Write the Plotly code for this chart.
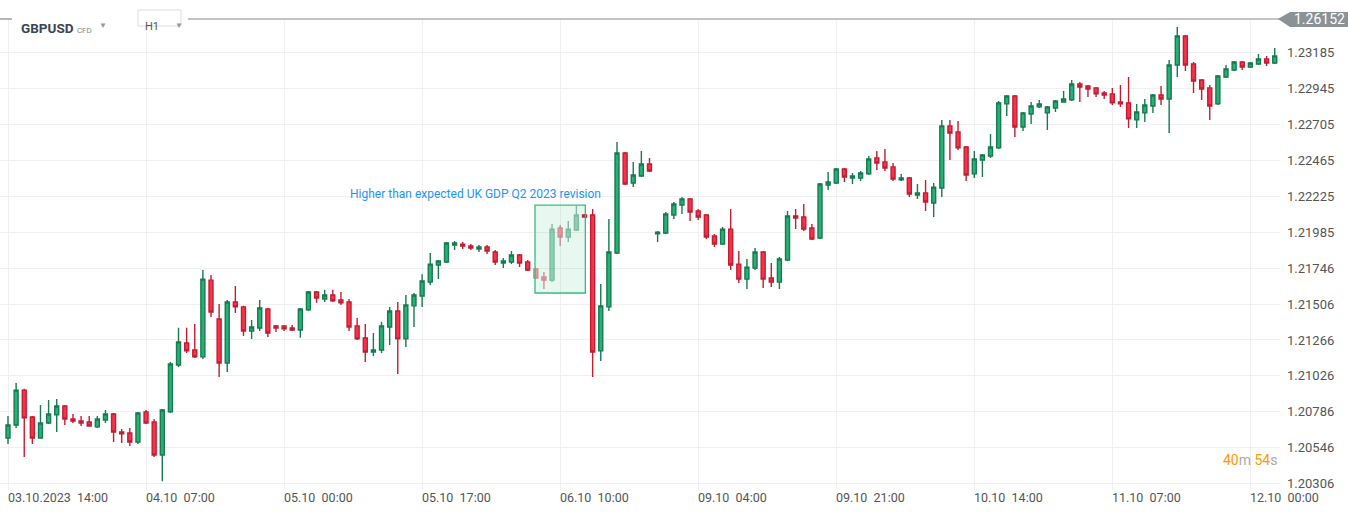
import plotly.graph_objects as go

opens = [1.20611,1.20698,1.20931,1.20751,1.20611,1.20711,1.20765,1.20825,1.20738,1.20724,
1.20718,1.20685,1.20731,1.20771,1.20651,1.20644,1.20584,1.20785,1.20718,1.20497,
1.20785,1.21099,1.21246,1.21199,1.21153,1.21666,1.21406,1.21112,1.21520,1.21487,
1.21326,1.21346,1.21473,1.21360,1.21360,1.21346,1.21333,1.21467,1.21587,1.21540,
1.21567,1.21534,1.21520,1.21360,1.21280,1.21186,1.21199,1.21353,1.21460,1.21273,
1.21494,1.21560,1.21653,1.21767,1.21787,1.21901,1.21907,1.21894,1.21874,1.21887,
1.21854,1.21780,1.21787,1.21834,1.21787,1.21740,1.21687,1.21666,1.22014,1.21954,
1.22001,1.22101,1.22101,1.21193,1.21487,1.21847,1.22516,1.22315,1.22362,1.22442,
1.21975,1.21981,1.22101,1.22168,1.22209,1.22128,1.22101,1.21961,1.21907,1.22007,
1.21773,1.21673,1.21747,1.21854,1.21680,1.21653,1.21800,1.22095,1.22088,1.22014,
1.21948,1.22302,1.22315,1.22409,1.22349,1.22349,1.22376,1.22483,1.22456,1.22423,
1.22336,1.22349,1.22235,1.22249,1.22182,1.22282,1.22697,1.22657,1.22556,1.22376,
1.22469,1.22496,1.22550,1.22844,1.22897,1.22690,1.22777,1.22824,1.22784,1.22817,
1.22857,1.22871,1.22977,1.22964,1.22951,1.22917,1.22911,1.22857,1.22851,1.22737,
1.22784,1.22830,1.22904,1.22877,1.23104,1.23298,1.23111,1.23004,1.22951,1.22844,
1.23024,1.23071,1.23124,1.23091,1.23111,1.23144,1.23118]
highs = [1.20758,1.20978,1.20940,1.20758,1.20832,1.20865,1.20872,1.20832,1.20771,1.20758,
1.20758,1.20758,1.20798,1.20778,1.20671,1.20678,1.20785,1.20798,1.20738,1.20805,
1.21119,1.21347,1.21347,1.21373,1.21733,1.21700,1.21507,1.21534,1.21626,1.21494,
1.21400,1.21534,1.21480,1.21366,1.21366,1.21366,1.21480,1.21594,1.21594,1.21601,
1.21601,1.21587,1.21540,1.21413,1.21373,1.21313,1.21387,1.21487,1.21520,1.21567,
1.21580,1.21706,1.21847,1.21800,1.21921,1.21928,1.21921,1.21907,1.21901,1.21901,
1.21867,1.21814,1.21860,1.21840,1.21800,1.21747,1.21720,1.22041,1.22034,1.22061,
1.22161,1.22108,1.22141,1.21640,1.22075,1.22590,1.22523,1.22456,1.22530,1.22483,
1.21994,1.22121,1.22188,1.22222,1.22215,1.22141,1.22108,1.21975,1.22021,1.22141,
1.21860,1.21807,1.21881,1.21860,1.21780,1.21820,1.22128,1.22141,1.22175,1.22041,
1.22315,1.22389,1.22416,1.22416,1.22382,1.22396,1.22496,1.22530,1.22543,1.22449,
1.22376,1.22355,1.22309,1.22336,1.22315,1.22737,1.22737,1.22730,1.22563,1.22530,
1.22510,1.22643,1.22864,1.22904,1.22904,1.22790,1.22857,1.22871,1.22830,1.22871,
1.22931,1.23004,1.22991,1.22971,1.22957,1.22931,1.22951,1.22971,1.23024,1.22844,
1.22877,1.22911,1.22964,1.23138,1.23359,1.23305,1.23124,1.23011,1.22971,1.23038,
1.23104,1.23131,1.23131,1.23124,1.23178,1.23165,1.23218]
lows = [1.20570,1.20678,1.20483,1.20570,1.20605,1.20704,1.20651,1.20698,1.20711,1.20691,
1.20685,1.20678,1.20711,1.20584,1.20577,1.20557,1.20570,1.20705,1.20483,1.20322,
1.20778,1.21085,1.21179,1.21146,1.21139,1.21420,1.21018,1.21052,1.21446,1.21293,
1.21273,1.21326,1.21286,1.21320,1.21326,1.21326,1.21280,1.21460,1.21514,1.21520,
1.21520,1.21500,1.21326,1.21266,1.21119,1.21159,1.21179,1.21233,1.21038,1.21219,
1.21353,1.21487,1.21633,1.21673,1.21780,1.21867,1.21874,1.21867,1.21854,1.21840,
1.21767,1.21747,1.21773,1.21753,1.21727,1.21673,1.21606,1.21653,1.21894,1.21921,
1.21994,1.22081,1.21018,1.21126,1.21460,1.21840,1.22302,1.22288,1.22355,1.22389,
1.21921,1.21975,1.22075,1.22108,1.22061,1.22068,1.21941,1.21887,1.21901,1.21733,
1.21646,1.21606,1.21733,1.21613,1.21620,1.21606,1.21794,1.22007,1.21994,1.21934,
1.21941,1.22268,1.22309,1.22322,1.22309,1.22329,1.22369,1.22402,1.22396,1.22329,
1.22329,1.22222,1.22209,1.22128,1.22088,1.22222,1.22469,1.22536,1.22329,1.22349,
1.22355,1.22483,1.22543,1.22764,1.22623,1.22663,1.22710,1.22817,1.22670,1.22790,
1.22851,1.22864,1.22857,1.22890,1.22890,1.22877,1.22837,1.22824,1.22683,1.22683,
1.22723,1.22784,1.22837,1.22650,1.23024,1.23064,1.22917,1.22871,1.22737,1.22837,
1.23017,1.23064,1.23071,1.23084,1.23104,1.23098,1.23111]
closes = [1.20698,1.20931,1.20745,1.20611,1.20711,1.20771,1.20825,1.20738,1.20724,1.20711,
1.20691,1.20738,1.20771,1.20651,1.20638,1.20584,1.20778,1.20711,1.20497,1.20798,
1.21105,1.21253,1.21193,1.21153,1.21673,1.21453,1.21112,1.21520,1.21487,1.21326,
1.21353,1.21480,1.21313,1.21346,1.21340,1.21333,1.21473,1.21587,1.21547,1.21567,
1.21527,1.21514,1.21353,1.21273,1.21186,1.21199,1.21360,1.21460,1.21273,1.21500,
1.21567,1.21660,1.21773,1.21794,1.21914,1.21914,1.21894,1.21881,1.21887,1.21860,
1.21787,1.21794,1.21834,1.21780,1.21733,1.21680,1.21666,1.22007,1.21954,1.22007,
1.22101,1.22088,1.21186,1.21494,1.21854,1.22516,1.22309,1.22369,1.22442,1.22396,
1.21987,1.22108,1.22175,1.22209,1.22121,1.22088,1.21954,1.21907,1.22007,1.21767,
1.21673,1.21753,1.21854,1.21673,1.21653,1.21807,1.22095,1.22081,1.22007,1.21941,
1.22309,1.22322,1.22409,1.22355,1.22362,1.22382,1.22476,1.22449,1.22416,1.22342,
1.22349,1.22242,1.22249,1.22188,1.22288,1.22697,1.22650,1.22550,1.22369,1.22476,
1.22503,1.22556,1.22851,1.22897,1.22690,1.22784,1.22830,1.22844,1.22824,1.22864,
1.22877,1.22977,1.22957,1.22944,1.22911,1.22904,1.22851,1.22844,1.22744,1.22790,
1.22837,1.22904,1.22877,1.23104,1.23298,1.23104,1.22997,1.22944,1.22830,1.23031,
1.23078,1.23124,1.23091,1.23118,1.23144,1.23118,1.23165]

x_tick_idx = [0, 17, 34, 51, 68, 85, 102, 119, 136, 153]
x_tick_labels = ["03.10.2023  14:00", "04.10  07:00", "05.10  00:00", "05.10  17:00",
                 "06.10  10:00", "09.10  04:00", "09.10  21:00", "10.10  14:00",
                 "11.10  07:00", "12.10  00:00"]
y_ticks = [1.20306,1.20546,1.20786,1.21026,1.21266,1.21506,1.21746,1.21985,
           1.22225,1.22465,1.22705,1.22945,1.23185]
event_idx = list(range(65, 71))
event_text = "Higher than expected UK GDP Q2 2023 revision"

n = len(opens)
idx = list(range(n))
def pick(arr, keep):
    return [v if keep(i) else None for i, v in enumerate(arr)]

GF, GL, RF, RL = "#26b276", "#177a50", "#f7334b", "#c21d33"
fig = go.Figure()
for keep, op in [(lambda i: i not in event_idx, 1.0), (lambda i: i in event_idx, 0.5)]:
    fig.add_trace(go.Candlestick(
        x=idx, open=pick(opens, keep), high=pick(highs, keep), low=pick(lows, keep),
        close=pick(closes, keep), opacity=op, whiskerwidth=0,
        increasing=dict(fillcolor=GF, line=dict(color=GL, width=1.4)),
        decreasing=dict(fillcolor=RF, line=dict(color=RL, width=1.4)),
        showlegend=False, hoverinfo="skip"))

fig.add_shape(type="rect", x0=event_idx[0]-0.1, x1=event_idx[-1]+1.1,
              y0=1.21580, y1=1.22168, fillcolor="rgba(38,178,118,0.1)",
              line=dict(color="#2fbf83", width=1.3), layer="above")
fig.add_annotation(x=event_idx[-1]+3.3, y=1.22242, text=event_text, showarrow=False,
                   xanchor="right", yanchor="middle",
                   font=dict(color="#2196f3", size=12, family="Roboto"))

for i, t in zip(x_tick_idx, x_tick_labels):
    fig.add_annotation(x=i, y=-0.015, yref="paper", text=t.replace(" ", "\u00a0"),
                       showarrow=False, xanchor="left", yanchor="middle", xshift=-2,
                       font=dict(color="#555", size=12.5, family="Roboto"))

W = 1280.0
def px(v): return v / W
def py(v): return (490 - v) / 470.0
fig.add_shape(type="line", xref="paper", yref="paper", x0=px(0), x1=px(12), y0=py(19), y1=py(19),
              line=dict(color="#888", width=1.2))
fig.add_shape(type="line", xref="paper", yref="paper", x0=px(188), x1=px(1290), y0=py(19), y1=py(19),
              line=dict(color="#888", width=1.2))
fig.add_shape(type="path", xref="paper", yref="paper",
              path=f"M {px(1278)} {py(19)} L {px(1290)} {py(12)} L {px(1348)} {py(12)} L {px(1348)} {py(27)} L {px(1290)} {py(27)} Z",
              fillcolor="#8a9296", line=dict(width=0))
fig.add_annotation(xref="paper", yref="paper", x=px(1292), y=py(19), text="1.26152", showarrow=False,
                   xanchor="left", yanchor="middle", font=dict(color="white", size=14, family="Roboto"))
fig.add_shape(type="rect", xref="paper", yref="paper", x0=px(138), x1=px(181), y0=py(10), y1=py(26),
              fillcolor="white", line=dict(color="#ddd", width=1))
fig.add_annotation(xref="paper", yref="paper", x=px(143), y=py(18), text="H1", showarrow=False,
                   xanchor="left", font=dict(color="#555", size=11, family="Roboto"))
fig.add_annotation(xref="paper", yref="paper", x=px(173), y=py(17), text="▼", showarrow=False,
                   font=dict(color="#999", size=8))
fig.add_annotation(xref="paper", yref="paper", x=px(19), y=py(18), showarrow=False, xanchor="left",
                   text="<b>GBPUSD</b> <span style='font-size:8px;color:#888'>CFD</span>",
                   font=dict(color="#3a4654", size=13.5, family="Roboto"))
fig.add_annotation(xref="paper", yref="paper", x=px(97), y=py(17), text="▼", showarrow=False,
                   font=dict(color="#999", size=8))
fig.add_annotation(xref="paper", yref="paper", x=px(1279), y=py(470), showarrow=False, xanchor="right",
                   text="<span style='color:#ff9800'>40</span>m <span style='color:#ff9800'>54</span>s",
                   font=dict(color="#aaa", size=14, family="Roboto"))

fig.update_layout(
    width=1348, height=515, margin=dict(l=0, r=68, t=20, b=25),
    paper_bgcolor="white", plot_bgcolor="white",
    xaxis=dict(range=[-0.985, 156.65], tickvals=x_tick_idx, showticklabels=False,
               showgrid=True, gridcolor="#f0f0f0", zeroline=False, rangeslider=dict(visible=False),
               fixedrange=True),
    yaxis=dict(range=[1.20263, 1.23405], side="right", tickvals=y_ticks,
               ticktext=[f"{v:.5f}" for v in y_ticks], showgrid=True, gridcolor="#f0f0f0",
               zeroline=False, ticks="", tickfont=dict(color="#555", size=13, family="Roboto"),
               ticklabelstandoff=6),
)
fig.write_html("out.html", config={"displayModeBar": False},
               post_script="document.body.style.margin='0';document.body.style.overflow='hidden';")
